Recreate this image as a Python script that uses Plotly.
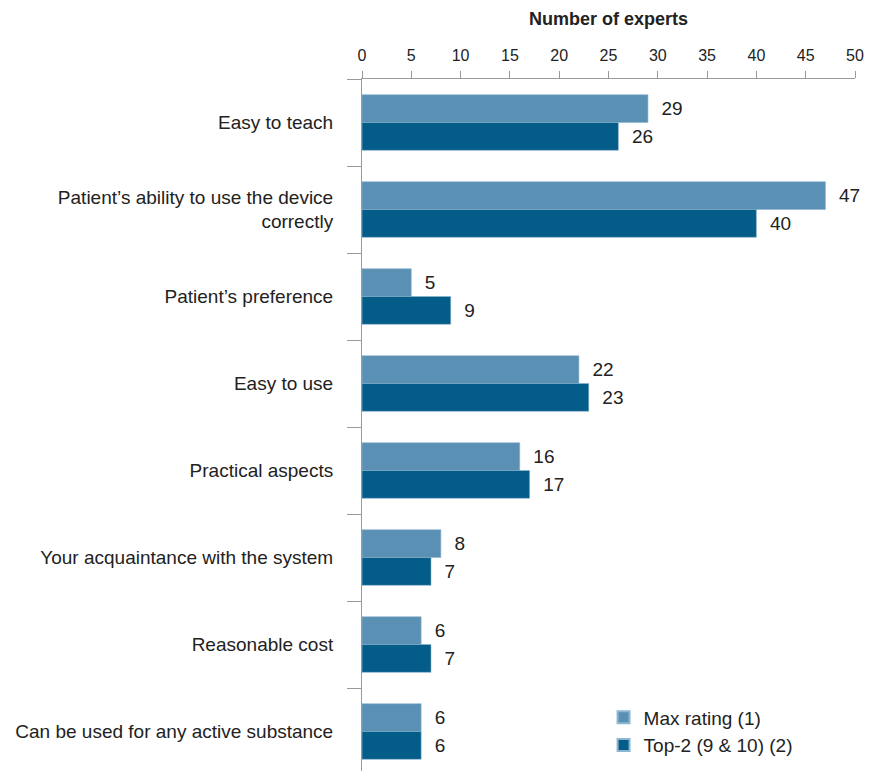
import plotly.graph_objects as go

categories = [
    "Easy to teach",
    "Patient\u2019s ability to use the device<br>correctly",
    "Patient\u2019s preference",
    "Easy to use",
    "Practical aspects",
    "Your acquaintance with the system",
    "Reasonable cost",
    "Can be used for any active substance",
]
max_rating = [29, 47, 5, 22, 16, 8, 6, 6]
top2 = [26, 40, 9, 23, 17, 7, 7, 6]
series_names = ["Max rating (1)", "Top-2 (9 & 10) (2)"]
colors = ["#5b90b5", "#045c89"]
x_ticks = list(range(0, 51, 5))

FONT = "Liberation Sans, Arial, Helvetica, sans-serif"
TEXT = "#222222"

fig = go.Figure()
for name, vals, col in zip(series_names, [max_rating, top2], colors):
    fig.add_trace(go.Bar(
        y=categories, x=vals, name=name, orientation="h",
        marker=dict(color=col, line=dict(color="#8fb6d0", width=0.6)),
        texttemplate="  %{x}", textposition="outside",
        textfont=dict(family=FONT, size=19, color=TEXT),
        cliponaxis=False,
    ))

fig.update_layout(
    width=869, height=771,
    margin=dict(l=362, r=14, t=79, b=0),
    paper_bgcolor="white", plot_bgcolor="white",
    barmode="group", bargap=0.36, bargroupgap=0,
    font=dict(family=FONT, size=19, color=TEXT),
    showlegend=True,
    legend=dict(
        x=0.49, y=0.105, xanchor="left", yanchor="top",
        bgcolor="rgba(0,0,0,0)", font=dict(size=19, color=TEXT),
        itemsizing="constant", tracegroupgap=2,
    ),
    xaxis=dict(
        side="top", range=[0, 50], tickvals=x_ticks,
        showgrid=False, zeroline=False,
        showline=True, linecolor="#9a9a9a", linewidth=1,
        ticks="outside", ticklen=7, tickcolor="#9a9a9a",
        tickfont=dict(size=16, color=TEXT),
        ticklabelstandoff=4,
        title=dict(text="<b>Number of experts</b>", font=dict(size=18, color=TEXT), standoff=16),
        fixedrange=True,
    ),
    yaxis=dict(
        type="category", range=[7.454, -0.5],
        showgrid=False, zeroline=False,
        showline=True, linecolor="#9a9a9a", linewidth=1,
        ticks="outside", tickson="boundaries", ticklen=14, tickcolor="#9a9a9a",
        tickfont=dict(size=19, color=TEXT),
        ticklabelstandoff=24,
    ),
)

fig.write_html("out.html")
